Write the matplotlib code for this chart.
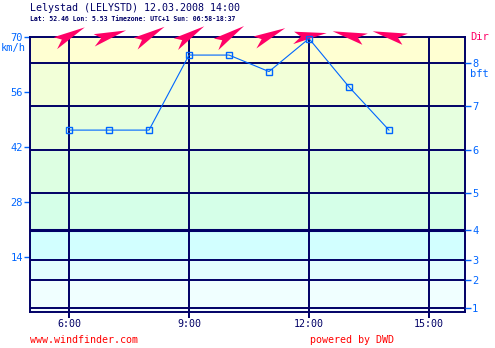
import matplotlib
matplotlib.use("Agg")
import matplotlib.pyplot as plt
import matplotlib.transforms as mtransforms
from matplotlib.path import Path
from matplotlib.markers import MarkerStyle

# measured wind speed (km/h) per hour
hours = [6, 7, 8, 9, 10, 11, 12, 13, 14]
speed_kmh = [46.3, 46.3, 46.3, 65.4, 65.4, 61.2, 69.6, 57.3, 46.3]
# wind direction (degrees, where the wind comes from)
wind_from = [242, 253, 240, 238, 237, 245, 262, 104, 104]

# lower limits of the beaufort classes in km/h
bft_levels = [1.0, 8.1, 13.2, 20.9, 30.3, 41.2, 52.4, 63.4]
bft_labels = ["1", "2", "3", "4", "5", "6", "7", "8"]
band_colors = ["#f5ffff", "#f0ffff", "#e3ffff", "#d2ffff", "#d5ffe8",
               "#ddffe2", "#e6ffdf", "#f2ffd8", "#ffffd2"]

kmh_ticks = [14, 28, 42, 56, 70]
hour_ticks = [6, 9, 12, 15]
hour_labels = ["6:00", "9:00", "12:00", "15:00"]

navy = "#000066"
blue = "#0066ff"
pink = "#ff0066"
mono = "DejaVu Sans Mono"

fig = plt.figure(figsize=(4.95, 3.48), dpi=100)
ax = fig.add_axes([30 / 495, 1 - 312 / 348, 435 / 495, 275 / 348])
ax.set_xlim(5.025, 15.9)
ax.set_ylim(0, 70)

# background bands between the beaufort limits
edges = [0] + bft_levels + [70]
for lo, hi, c in zip(edges[:-1], edges[1:], band_colors):
    ax.axhspan(lo, hi, color=c, lw=0, zorder=0)
for i, lv in enumerate(bft_levels):
    ax.axhline(lv, color=navy, lw=2.2 if bft_labels[i] == "4" else 1.4, zorder=1)
for h in hour_ticks:
    ax.axvline(h, color=navy, lw=1.4, zorder=1)

ax.plot(hours, speed_kmh, color=blue, lw=0.8, marker="s", ms=3.8,
        mfc="none", mec=blue, mew=1.0, zorder=5, clip_on=False)

# direction darts above the plot
dart = Path([(1, 0), (-0.85, 0.34), (-0.5, 0.0), (-1, -0.36), (1, 0)],
            [Path.MOVETO, Path.LINETO, Path.LINETO, Path.LINETO, Path.CLOSEPOLY])
trans = mtransforms.blended_transform_factory(ax.transData, ax.transAxes)
for h, d in zip(hours, wind_from):
    ang = -90 - d
    m = MarkerStyle(dart, transform=mtransforms.Affine2D().rotate_deg(ang))
    ax.plot([h], [1.009], ls="none", marker=m, ms=25, color=pink, mew=0,
            transform=trans, clip_on=False, zorder=4)

for s in ax.spines.values():
    s.set_color(navy)
    s.set_linewidth(1.4)

ax.set_yticks(kmh_ticks)
ax.set_yticklabels([str(v) for v in kmh_ticks], fontfamily=mono, fontsize=7.5)
ax.tick_params(axis="y", colors=blue, length=4, width=1, pad=1)
ax.set_xticks(hour_ticks)
ax.set_xticklabels(hour_labels, fontfamily=mono, fontsize=7.2)
ax.tick_params(axis="x", colors=navy, length=4, width=1.4, pad=1)

ax2 = ax.twinx()
ax2.set_ylim(0, 70)
ax2.set_yticks(bft_levels)
ax2.set_yticklabels(bft_labels, fontfamily=mono, fontsize=7.5)
ax2.tick_params(axis="y", colors=blue, length=4, width=1, pad=1)
for s in ax2.spines.values():
    s.set_visible(False)

fig.text(470 / 495, 1 - 37 / 348, "Dir", color=pink, fontfamily=mono,
         fontsize=7.5, va="center", ha="left")
fig.text(470 / 495, 1 - 74 / 348, "bft", color=blue, fontfamily=mono,
         fontsize=7.5, va="center", ha="left")
fig.text(1 / 495, 1 - 48 / 348, "km/h", color=blue, fontfamily=mono,
         fontsize=7.5, va="center", ha="left")

fig.text(30 / 495, 1 - 8 / 348, "Lelystad (LELYSTD) 12.03.2008 14:00",
         color=navy, fontfamily=mono, fontsize=7.2, va="center", ha="left")
fig.text(30 / 495, 1 - 19 / 348,
         "Lat: 52.46 Lon: 5.53 Timezone: UTC+1 Sun: 06:58-18:37",
         color=navy, fontfamily=mono, fontsize=4.7, fontweight="bold",
         va="center", ha="left")
fig.text(30 / 495, 1 - 340 / 348, "www.windfinder.com", color="#ff0000",
         fontfamily=mono, fontsize=7.2, va="center", ha="left")
fig.text(310 / 495, 1 - 340 / 348, "powered by DWD", color="#ff0000",
         fontfamily=mono, fontsize=7.2, va="center", ha="left")

fig.savefig("out.png", dpi=100)
